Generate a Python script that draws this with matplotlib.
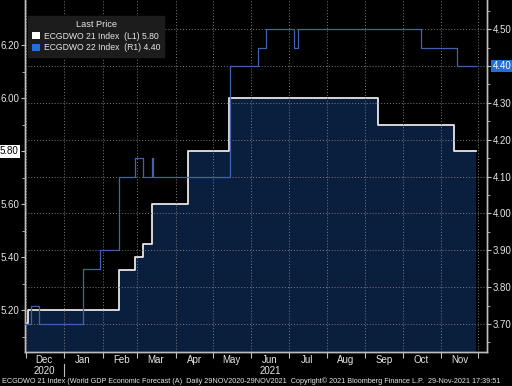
import pandas as pd
import matplotlib
matplotlib.use("Agg")
import matplotlib.pyplot as plt
import matplotlib.dates as mdates
import matplotlib.transforms as mtransforms
from matplotlib.patches import Patch

plt.rcParams["font.family"] = ["Liberation Sans", "DejaVu Sans"]

# ECGDWO 21 Index (left axis), step changes
l1_dates = ["2020-11-29", "2020-12-03", "2021-02-14", "2021-02-27", "2021-03-06",
            "2021-03-13", "2021-04-11", "2021-05-14", "2021-09-11", "2021-11-11",
            "2021-11-29"]
l1_values = [5.15, 5.20, 5.35, 5.40, 5.45, 5.60, 5.80, 6.00, 5.90, 5.80, 5.80]

# ECGDWO 22 Index (right axis), step changes
r1_dates = ["2020-11-29", "2020-12-05", "2020-12-12", "2021-01-16", "2021-01-30",
            "2021-02-14", "2021-02-27", "2021-03-06", "2021-03-13", "2021-03-14",
            "2021-05-15", "2021-06-06", "2021-06-13", "2021-07-05", "2021-07-09",
            "2021-10-16", "2021-11-14", "2021-11-29"]
r1_values = [3.70, 3.75, 3.70, 3.85, 3.90, 4.10, 4.15, 4.10, 4.15, 4.10,
             4.40, 4.45, 4.50, 4.45, 4.50, 4.45, 4.40, 4.40]

left_ticks = [5.20, 5.40, 5.60, 5.80, 6.00, 6.20]
right_ticks = [3.70, 3.80, 3.90, 4.00, 4.10, 4.20, 4.30, 4.40, 4.50]
l1_last = 5.80
r1_last = 4.40

footer = ("ECGDWO 21 Index (World GDP Economic Forecast (A)  Daily 29NOV2020-29NOV2021  "
          "Copyright\u00a9 2021 Bloomberg Finance L.P.  29-Nov-2021 17:39:51")

l1_x = pd.to_datetime(l1_dates)
r1_x = pd.to_datetime(r1_dates)

fg = "#e6e6e6"
spine_c = "#bdbdbd"
grid_c = "#7c7c7c"
fill_c = "#0a1f3e"
blue_c = "#4262b0"

fig = plt.figure(figsize=(5.12, 3.86), dpi=100, facecolor="black")
ax = fig.add_axes([25 / 512, 34 / 386, 462 / 512, 352 / 386])
ax.set_facecolor("black")

ax.fill_between(l1_x, l1_values, 4.9, step="post", color=fill_c, lw=0, zorder=1)
ax.plot(l1_x, l1_values, drawstyle="steps-post", color=fg, lw=1.3, zorder=3)

ax.set_xlim(pd.Timestamp("2020-11-30 12:00"), pd.Timestamp("2021-12-08"))
ax.set_ylim(5.042, 6.37)

ax2 = ax.twinx()
ax2.plot(r1_x, r1_values, drawstyle="steps-post", color=blue_c, lw=0.9, zorder=3)
ax2.set_ylim(3.624, 4.579)

# x axis: month boundaries as major ticks, labels centred mid-month
ax.xaxis.set_major_locator(mdates.MonthLocator(bymonthday=1))
ax.xaxis.set_major_formatter(plt.NullFormatter())
ax.xaxis.set_minor_locator(mdates.MonthLocator(bymonthday=16))
ax.xaxis.set_minor_formatter(mdates.DateFormatter("%b"))
ax.tick_params(axis="x", which="major", length=4, color=spine_c, direction="out")
ax.tick_params(axis="x", which="minor", length=0, pad=2, labelsize=7, labelcolor=fg)

# left axis
ax.set_yticks(left_ticks)
ax.set_yticklabels(["" if abs(v - l1_last) < 1e-9 else f"{v:.2f}" for v in left_ticks])
ax.set_yticks([v + 0.1 for v in left_ticks[:-1]] + [5.10], minor=True)
ax.tick_params(axis="y", which="major", length=3, color=spine_c, labelsize=7,
               labelcolor=fg, pad=1)
ax.tick_params(axis="y", which="minor", length=2, color=spine_c)

# right axis
ax2.set_yticks(right_ticks)
ax2.set_yticklabels(["" if abs(v - r1_last) < 1e-9 else f"{v:.2f}" for v in right_ticks])
ax2.set_yticks([v + 0.05 for v in right_ticks] + [3.65], minor=True)
ax2.tick_params(axis="y", which="major", length=3, color=spine_c, labelsize=7,
                labelcolor=fg, pad=1)
ax2.tick_params(axis="y", which="minor", length=2, color=spine_c)

for a in (ax, ax2):
    a.spines["top"].set_visible(False)
    for s in ("left", "right", "bottom"):
        a.spines[s].set_color(spine_c)
        a.spines[s].set_linewidth(1.0)

# dotted grid drawn on the top axes so it shows over the fill
ax2.grid(True, axis="y", color=grid_c, linestyle=(0, (1, 2)), lw=0.7)
for m in ax.xaxis.get_majorticklocs():
    ax2.axvline(m, color=grid_c, linestyle=(0, (1, 2)), lw=0.7, zorder=0.5)

# last price tags
lt = mtransforms.blended_transform_factory(ax.transAxes, ax.transData)
ax.text(-0.014, l1_last, f"{l1_last:.2f}", transform=lt, ha="right", va="center",
        fontsize=7, color="black",
        bbox=dict(boxstyle="square,pad=0.15", fc="white", ec="none"), clip_on=False)
rt = mtransforms.blended_transform_factory(ax2.transAxes, ax2.transData)
ax2.text(1.012, r1_last, f"{r1_last:.2f}", transform=rt, ha="left", va="center",
         fontsize=7, color="white",
         bbox=dict(boxstyle="square,pad=0.15", fc="#1f6fe0", ec="none"), clip_on=False)

# year labels and separator
xt = ax.get_xaxis_transform()
ax.text(pd.Timestamp("2020-12-16"), -0.055, "2020", transform=xt, ha="center",
        va="center", fontsize=7, color=fg)
ax.text(pd.Timestamp("2021-06-16"), -0.055, "2021", transform=xt, ha="center",
        va="center", fontsize=7, color=fg)
ax.plot([pd.Timestamp("2021-01-01")] * 2, [-0.035, -0.068], transform=xt,
        color=spine_c, lw=0.8, clip_on=False)

# legend
handles = [Patch(fc="white", ec="none"), Patch(fc="#1f6fe0", ec="none")]
labels = [f"ECGDWO 21 Index  (L1) {l1_last:.2f}", f"ECGDWO 22 Index  (R1) {r1_last:.2f}"]
leg = ax2.legend(handles, labels, title="Last Price", loc="upper left",
                 bbox_to_anchor=(28 / 512, 1 - 16 / 386), bbox_transform=fig.transFigure,
                 borderaxespad=0, fontsize=6.2, title_fontsize=6.6, frameon=True,
                 fancybox=False, facecolor="#1c1c1c", edgecolor="#1c1c1c", framealpha=1,
                 handlelength=0.9, handleheight=0.9, handletextpad=0.4,
                 borderpad=0.5, labelspacing=0.3)
leg.get_title().set_color(fg)
for t in leg.get_texts():
    t.set_color(fg)

fig.text(2 / 512, 5 / 386, footer, fontsize=5.2, color=fg, ha="left", va="center")

fig.savefig("out.png", dpi=100, facecolor="black")
